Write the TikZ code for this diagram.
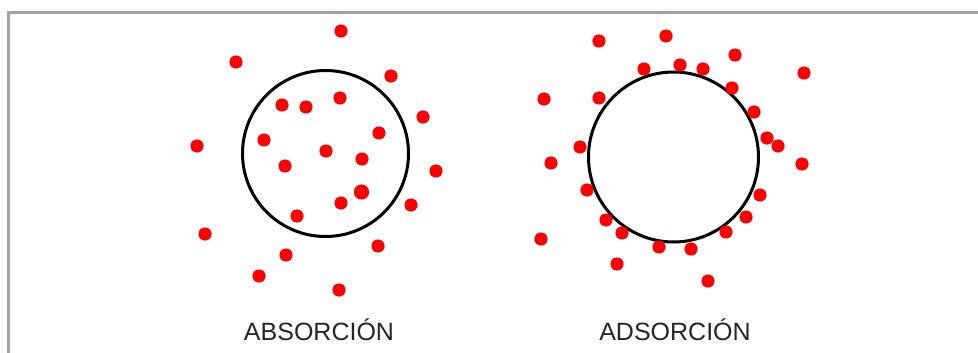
\documentclass[tikz,border=0pt]{standalone}
\usepackage{fontspec}
\setmainfont{Liberation Sans}
\begin{document}
\begin{tikzpicture}[x=1pt,y=-1pt,
  dot/.style={fill=red},
  ring/.style={draw=black,line width=3pt},
  frameline/.style={draw=black!36,line width=3pt},
  label/.style={anchor=base,font=\fontsize{25}{30}\selectfont,text=black!85}]
\useasboundingbox (0,0) rectangle (978,353);
\fill[white] (0,0) rectangle (978,353);
% frame (top and left)
\draw[frameline] (8.5,353) -- (8.5,12.5) -- (978,12.5);
% left circle
\draw[ring] (325.5,153.5) circle[radius=83];
\foreach \p in {(341,31),(236,62),(391,76),(340,98),(282,105),(306,107),(423,117),(379,133),
  (197,146),(264,140),(326,151),(362,159),(285,166),(436,171),(341,203),(411,205),
  (297,216),(205,234),(378,246),(286,255),(259,276),(339,290)}
  \fill[dot] \p circle[radius=6.6];
\fill[dot] (361.5,192) circle[radius=7.6];
% right circle
\draw[ring] (673.5,157) circle[radius=85];
\foreach \p in {(599,41),(666,36),(735,55),(644,69),(680,65),(703,69),(804,73),(544,99),
  (599,98),(732,88),(754,112),(580,147),(767,138),(778,146),(551,163),(802,164),
  (587,190),(760,195),(606,220),(746,217),(622,233),(726,232),(541,239),(659,247),
  (691,249),(617,264),(708,281)}
  \fill[dot] \p circle[radius=6.6];
\node[label] (absorcion) at (319,340) {ABSORCIÓN};
\node[label] (adsorcion) at (675,340) {ADSORCIÓN};
\end{tikzpicture}
\end{document}
